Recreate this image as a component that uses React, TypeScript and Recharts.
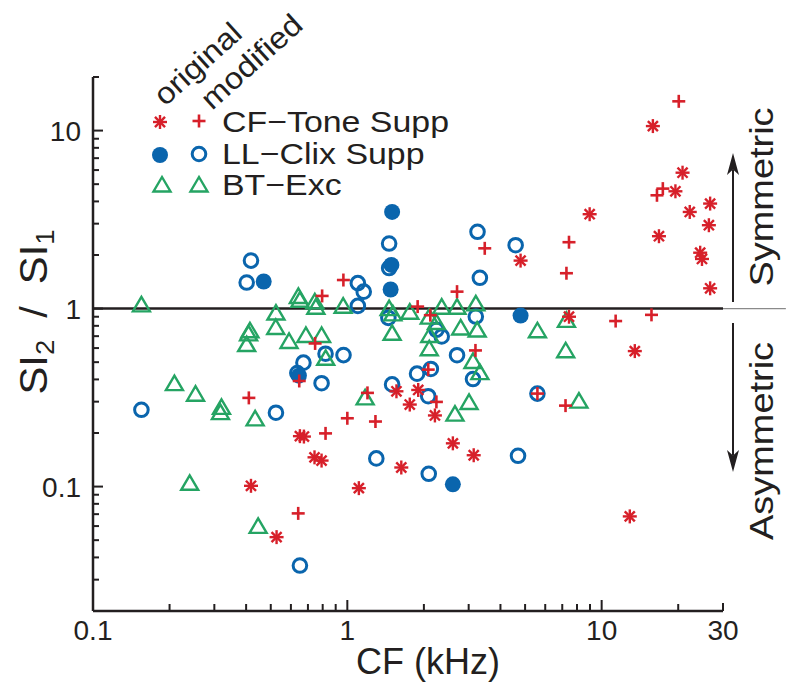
import { ReferenceLine, Scatter, ScatterChart, XAxis, YAxis } from "recharts";

// CF (kHz), SI2/SI1 pairs
const cfToneOriginal = [
  [15.9, 10.6], [20.8, 5.8], [19.5, 4.56], [26.7, 3.89], [8.97, 3.39], [22.2, 3.49],
  [26.4, 2.94], [16.8, 2.55], [24.4, 2.06], [24.8, 1.9], [26.7, 1.3], [7.44, 0.9],
  [13.5, 0.577], [12.9, 0.068], [4.8, 1.86], [1.56, 0.343], [1.9, 0.349], [1.76, 0.289],
  [2.21, 0.251], [2.6, 0.175], [3.14, 0.15], [1.63, 0.128], [1.11, 0.098], [0.651, 0.192],
  [0.675, 0.191], [0.743, 0.146], [0.792, 0.14], [0.418, 0.101], [0.527, 0.052],
];
const cfToneModified = [
  [20.1, 14.6], [17.4, 4.72], [16.5, 4.33], [7.44, 2.36], [7.27, 1.58], [11.35, 0.851],
  [15.7, 0.922], [3.47, 2.18], [2.7, 1.245], [0.965, 1.447], [0.796, 1.178], [1.89, 1.026],
  [2.12, 0.918], [0.747, 0.637], [0.647, 0.392], [3.19, 0.582], [2.08, 0.454], [2.24, 0.299],
  [1.2, 0.336], [1.0, 0.242], [1.29, 0.232], [0.41, 0.315], [0.821, 0.199], [0.641, 0.0707],
  [5.59, 0.333], [7.21, 0.285],
];
const llClixOriginal = [
  [1.5, 3.49], [1.49, 1.76], [1.48, 1.28], [0.469, 1.42], [4.8, 0.914], [2.6, 0.103], [0.645, 0.42],
];
const llClixModified = [
  [0.418, 1.86], [0.402, 1.4], [1.1, 1.39], [1.16, 1.245], [1.1, 1.035], [1.46, 2.32],
  [1.46, 1.69], [1.45, 0.887], [3.25, 2.7], [3.32, 1.49], [4.59, 2.27], [3.2, 0.902],
  [2.24, 0.76], [2.35, 0.697], [0.966, 0.548], [2.7, 0.547], [3.12, 0.402], [1.88, 0.431],
  [2.13, 0.458], [1.5, 0.375], [2.08, 0.322], [5.59, 0.333], [4.69, 0.149], [1.3, 0.144],
  [2.09, 0.118], [0.821, 0.558], [0.672, 0.497], [0.636, 0.434], [0.792, 0.381], [0.155, 0.27],
  [0.524, 0.26], [0.651, 0.036],
];
const btExc = [
  [0.155, 1.035], [0.209, 0.374], [0.253, 0.326], [0.32, 0.275], [0.317, 0.257], [0.24, 0.103],
  [0.434, 0.237], [0.446, 0.059], [0.524, 0.932], [0.523, 0.773], [0.414, 0.741], [0.409, 0.712],
  [0.402, 0.62], [0.59, 0.645], [0.687, 0.697], [0.792, 0.697], [0.642, 1.155], [0.651, 1.1],
  [0.745, 1.076], [0.752, 1.005], [0.963, 1.018], [0.822, 0.519], [1.175, 0.311], [1.46, 0.987],
  [1.51, 0.922], [1.76, 0.942], [1.5, 0.717], [2.1, 0.884], [2.35, 1.005], [2.7, 1.005],
  [3.2, 1.049], [2.24, 0.824], [2.11, 0.697], [2.1, 0.587], [2.79, 0.768], [3.24, 0.748],
  [3.12, 0.498], [3.32, 0.431], [3.01, 0.293], [2.65, 0.252], [5.59, 0.741], [7.27, 0.848],
  [7.22, 0.572], [8.14, 0.298],
];

const xTicks = [0.1, 0.2, 0.3, 0.4, 0.5, 0.6, 0.7, 0.8, 0.9, 1, 2, 3, 4, 5, 6, 7, 8, 9, 10, 20, 30];
const xLabelled = [0.1, 1, 10, 30];
const yTicks = [
  0.03, 0.04, 0.05, 0.06, 0.07, 0.08, 0.09, 0.1, 0.2, 0.3, 0.4, 0.5, 0.6, 0.7, 0.8, 0.9,
  1, 2, 3, 4, 5, 6, 7, 8, 9, 10, 20,
];
const yLabelled = [0.1, 1, 10];

const legendRows = ["CF\u2212Tone Supp", "LL\u2212Clix Supp", "BT\u2212Exc"];

const red = "#d7202a";
const blue = "#0a65ad";
const green = "#25a463";
const ink = "#231f20";
const font = "'Liberation Sans', Arial, Helvetica, sans-serif";

const toPoints = (pairs: number[][]) => pairs.map(([x, y]) => ({ x, y }));

function Asterisk({ cx, cy }: { cx: number; cy: number }) {
  const r = 7;
  const d = r * 0.72;
  return (
    <g stroke={red} strokeWidth={2.4}>
      <line x1={cx - r} y1={cy} x2={cx + r} y2={cy} />
      <line x1={cx} y1={cy - r} x2={cx} y2={cy + r} />
      <line x1={cx - d} y1={cy - d} x2={cx + d} y2={cy + d} />
      <line x1={cx - d} y1={cy + d} x2={cx + d} y2={cy - d} />
    </g>
  );
}

function Plus({ cx, cy }: { cx: number; cy: number }) {
  const r = 6.5;
  return (
    <g stroke={red} strokeWidth={2.6}>
      <line x1={cx - r} y1={cy} x2={cx + r} y2={cy} />
      <line x1={cx} y1={cy - r} x2={cx} y2={cy + r} />
    </g>
  );
}

const Dot = ({ cx, cy }: { cx: number; cy: number }) => <circle cx={cx} cy={cy} r={8} fill={blue} />;

const Ring = ({ cx, cy }: { cx: number; cy: number }) => (
  <circle cx={cx} cy={cy} r={6.8} fill="none" stroke={blue} strokeWidth={3} />
);

const Triangle = ({ cx, cy }: { cx: number; cy: number }) => (
  <polygon
    points={`${cx},${cy - 9} ${cx - 8.5},${cy + 5.5} ${cx + 8.5},${cy + 5.5}`}
    fill="none"
    stroke={green}
    strokeWidth={2.4}
  />
);

function XTick(props: any) {
  const { x, y, payload } = props;
  const v = payload.value;
  const major = xLabelled.includes(v);
  const len = v === 1 || v === 10 ? 11 : major ? 8 : 7;
  return (
    <g>
      <line x1={x} x2={x} y1={y} y2={y - len} stroke={ink} strokeWidth={2} />
      {major && (
        <text x={x} y={y + 29} textAnchor="middle" fontSize={28} fontFamily={font} fill={ink}>
          {String(v)}
        </text>
      )}
    </g>
  );
}

function YTick(props: any) {
  const { x, y, payload } = props;
  const v = payload.value;
  const major = yLabelled.includes(v);
  return (
    <g>
      <line x1={x} x2={x + (major ? 10 : 6)} y1={y} y2={y} stroke={ink} strokeWidth={2} />
      {major && (
        <text x={x - 12} y={y + 10} textAnchor="end" fontSize={28} fontFamily={font} fill={ink}>
          {String(v)}
        </text>
      )}
    </g>
  );
}

function Arrow({ x, from, to }: { x: number; from: number; to: number }) {
  const dir = to < from ? -1 : 1;
  const headLen = 22;
  const base = to - dir * headLen;
  const notch = to - dir * headLen * 0.75;
  return (
    <g>
      <line x1={x} x2={x} y1={from} y2={notch} stroke={ink} strokeWidth={2} />
      <polygon points={`${x},${to} ${x - 6},${base} ${x},${notch} ${x + 6},${base}`} fill={ink} />
    </g>
  );
}

export default function App() {
  return (
    <div style={{ position: "relative", width: 784, height: 674, fontFamily: font }}>
      <ScatterChart width={784} height={674} margin={{ top: 69, right: 69, bottom: 31, left: 25 }}>
        <XAxis
          type="number"
          dataKey="x"
          scale="log"
          domain={[0.1, 30]}
          allowDataOverflow
          ticks={xTicks}
          interval={0}
          tickSize={0}
          tickMargin={0}
          tickLine={false}
          tick={(p: any) => <XTick {...p} />}
          axisLine={{ stroke: ink, strokeWidth: 2.5 }}
          height={40}
        />
        <YAxis
          type="number"
          dataKey="y"
          scale="log"
          domain={[0.02, 20]}
          allowDataOverflow
          ticks={yTicks}
          interval={0}
          tickSize={0}
          tickMargin={0}
          tickLine={false}
          tick={(p: any) => <YTick {...p} />}
          axisLine={{ stroke: ink, strokeWidth: 2.5 }}
          width={60}
        />
        <ReferenceLine y={1} stroke={ink} strokeWidth={2.5} />
        <ReferenceLine
          segment={[{ x: 30, y: 1 }, { x: 53, y: 1 }]}
          ifOverflow="visible"
          stroke="#8a8a8a"
          strokeWidth={1.2}
        />
        <Scatter data={toPoints(llClixModified)} shape={(p: any) => <Ring cx={p.cx} cy={p.cy} />} isAnimationActive={false} />
        <Scatter data={toPoints(llClixOriginal)} shape={(p: any) => <Dot cx={p.cx} cy={p.cy} />} isAnimationActive={false} />
        <Scatter data={toPoints(btExc)} shape={(p: any) => <Triangle cx={p.cx} cy={p.cy} />} isAnimationActive={false} />
        <Scatter data={toPoints(cfToneOriginal)} shape={(p: any) => <Asterisk cx={p.cx} cy={p.cy} />} isAnimationActive={false} />
        <Scatter data={toPoints(cfToneModified)} shape={(p: any) => <Plus cx={p.cx} cy={p.cy} />} isAnimationActive={false} />
      </ScatterChart>

      <svg
        width={800}
        height={690}
        style={{ position: "absolute", left: -8, top: -8, pointerEvents: "none" }}
        fontFamily={font}
        fill={ink}
      >
        {/* legend */}
        <text transform="translate(165,107) rotate(-42) scale(1.1,1)" fontSize={30}>original</text>
        <text transform="translate(212,111) rotate(-42) scale(1.1,1)" fontSize={30}>modified</text>
        <Asterisk cx={160} cy={122} />
        <Plus cx={199} cy={121} />
        <Dot cx={160} cy={155} />
        <Ring cx={199} cy={154} />
        <Triangle cx={162} cy={186} />
        <Triangle cx={199} cy={186} />
        {legendRows.map((label, i) => (
          <text key={label} transform={`translate(222,${132 + i * 31.5}) scale(1.13,1)`} fontSize={30}>
            {label}
          </text>
        ))}

        {/* axis titles */}
        <text x={428} y={674} textAnchor="middle" fontSize={36}>CF (kHz)</text>
        <text transform="translate(47,312) rotate(-90) scale(1.1,1)" textAnchor="middle" fontSize={38}>
          SI
          <tspan fontSize={25} dy={7}>2</tspan>
          <tspan dy={-7} dx={20}>/</tspan>
          <tspan dx={20}>SI</tspan>
          <tspan fontSize={25} dy={7}>1</tspan>
        </text>

        {/* symmetry annotations */}
        <Arrow x={733} from={302} to={153} />
        <Arrow x={733} from={323} to={472} />
        <text transform="translate(773,197) rotate(-90) scale(1.15,1)" textAnchor="middle" fontSize={33}>
          Symmetric
        </text>
        <text transform="translate(773,441) rotate(-90) scale(1.15,1)" textAnchor="middle" fontSize={33}>
          Asymmetric
        </text>
      </svg>
    </div>
  );
}
